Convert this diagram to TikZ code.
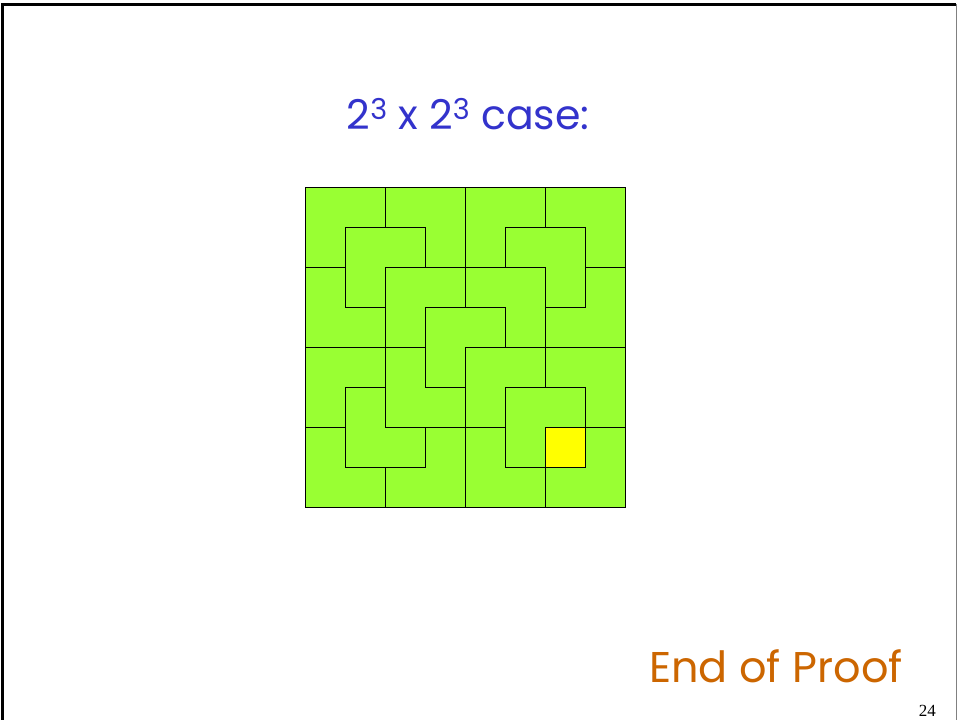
\documentclass[tikz,border=0pt]{standalone}
\usepackage{fontspec}
\setmainfont{Liberation Serif}
\newfontfamily\comicfont{Poppins}
\definecolor{tilegreen}{RGB}{153,255,51}
\definecolor{tileyellow}{RGB}{255,255,0}
\definecolor{titleblue}{RGB}{51,51,204}
\definecolor{prooforange}{RGB}{204,102,0}
\begin{document}
\begin{tikzpicture}[x=1pt,y=-1pt,
  tile/.style={fill=tilegreen,draw=black,line width=0.9pt,line join=miter},
  hole/.style={fill=tileyellow,draw=black,line width=0.9pt}]
\useasboundingbox (0,0) rectangle (959,720);
\fill[white] (0,0) rectangle (959,720);
% slide frame
\fill[black] (1,3) rectangle (956,6);
\fill[black] (1,3) rectangle (4,720);
\draw[gray,line width=1pt] (956.5,4) -- (956.5,720);
% title
\node[anchor=base,text=titleblue,font=\comicfont\fontsize{41}{45}\selectfont,inner sep=0pt] (title) at (468,129) {2\textsuperscript{3} x 2\textsuperscript{3} case:};
% tiling
\begin{scope}[shift={(305,187)},x=40pt,y=-40pt]
\draw[tile] (0,0)--(2,0)--(2,1)--(1,1)--(1,2)--(0,2)--cycle;
\draw[tile] (2,0)--(4,0)--(4,2)--(3,2)--(3,1)--(2,1)--cycle;
\draw[tile] (1,1)--(3,1)--(3,2)--(2,2)--(2,3)--(1,3)--cycle;
\draw[tile] (0,2)--(1,2)--(1,3)--(2,3)--(2,4)--(0,4)--cycle;
\draw[tile] (2,2)--(4,2)--(4,3)--(3,3)--(3,4)--(2,4)--cycle;
\draw[tile] (3,3)--(5,3)--(5,4)--(4,4)--(4,5)--(3,5)--cycle;
\draw[tile] (4,0)--(6,0)--(6,1)--(5,1)--(5,2)--(4,2)--cycle;
\draw[tile] (6,0)--(8,0)--(8,2)--(7,2)--(7,1)--(6,1)--cycle;
\draw[tile] (5,1)--(7,1)--(7,3)--(6,3)--(6,2)--(5,2)--cycle;
\draw[tile] (4,2)--(6,2)--(6,4)--(5,4)--(5,3)--(4,3)--cycle;
\draw[tile] (7,2)--(8,2)--(8,4)--(6,4)--(6,3)--(7,3)--cycle;
\draw[tile] (0,4)--(2,4)--(2,5)--(1,5)--(1,6)--(0,6)--cycle;
\draw[tile] (2,4)--(3,4)--(3,5)--(4,5)--(4,6)--(2,6)--cycle;
\draw[tile] (1,5)--(2,5)--(2,6)--(3,6)--(3,7)--(1,7)--cycle;
\draw[tile] (0,6)--(1,6)--(1,7)--(2,7)--(2,8)--(0,8)--cycle;
\draw[tile] (3,6)--(4,6)--(4,8)--(2,8)--(2,7)--(3,7)--cycle;
\draw[tile] (4,4)--(6,4)--(6,5)--(5,5)--(5,6)--(4,6)--cycle;
\draw[tile] (6,4)--(8,4)--(8,6)--(7,6)--(7,5)--(6,5)--cycle;
\draw[tile] (5,5)--(7,5)--(7,6)--(6,6)--(6,7)--(5,7)--cycle;
\draw[tile] (4,6)--(5,6)--(5,7)--(6,7)--(6,8)--(4,8)--cycle;
\draw[tile] (7,6)--(8,6)--(8,8)--(6,8)--(6,7)--(7,7)--cycle;
\draw[hole] (6,6)--(7,6)--(7,7)--(6,7)--cycle;
\end{scope}
% end of proof
\node[anchor=base,text=prooforange,font=\comicfont\fontsize{43}{47}\selectfont,inner sep=0pt] (eop) at (776,682) {End of Proof};
% page number
\node[anchor=base east,font=\fontsize{17}{20}\selectfont,inner sep=0pt] (pagenum) at (936,716) {24};
\end{tikzpicture}
\end{document}
